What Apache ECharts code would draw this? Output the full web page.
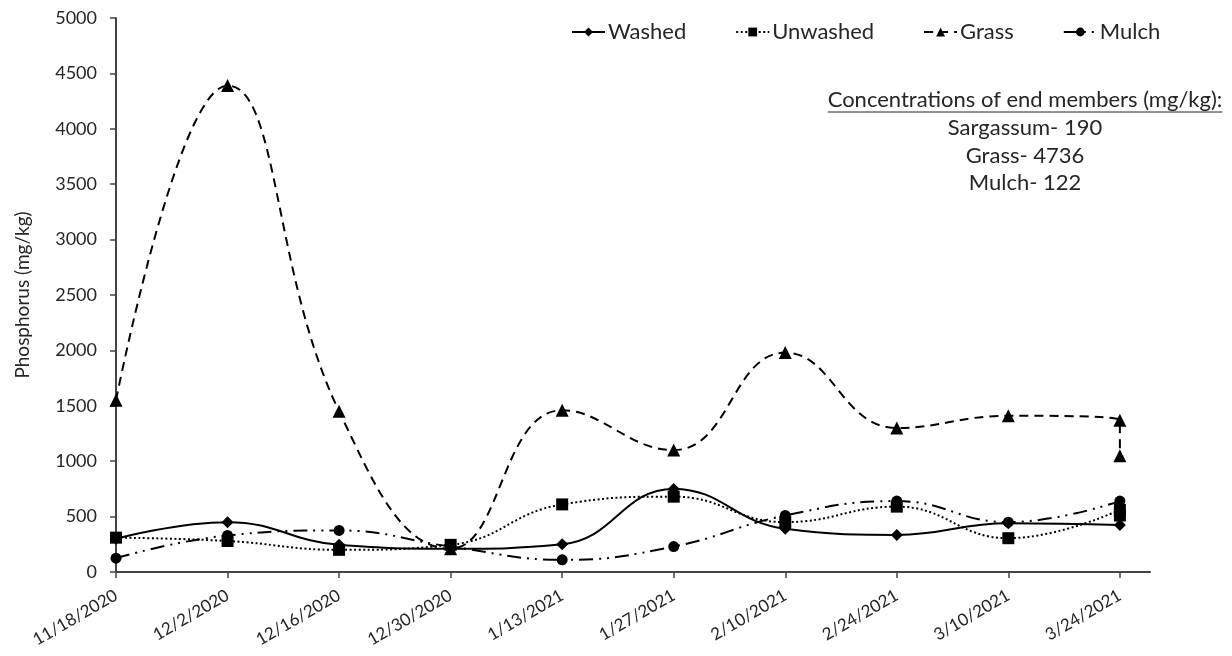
<!DOCTYPE html>
<html>
<head>
<meta charset="utf-8">
<script src="https://cdn.jsdelivr.net/npm/echarts@6/dist/echarts.min.js"></script>
<style>html,body{margin:0;padding:0;background:#fff}#c{width:1232px;height:656px}</style>
</head>
<body>
<div id="c"></div>
<script>
const dates = ['11/18/2020','12/2/2020','12/16/2020','12/30/2020','1/13/2021','1/27/2021','2/10/2021','2/24/2021','3/10/2021','3/24/2021'];
// sampling position (index into dates) of each measurement; last date sampled twice
const sampleIdx = [0,1,2,3,4,5,6,7,8,9,9];
const washed   = [300,450,245,210,250,750,390,335,440,425];
const unwashed = [310,280,200,245,610,680,450,590,305,560,510];
const grass    = [1550,4390,1450,210,1460,1100,1980,1300,1410,1370,1050];
const mulch    = [125,330,375,230,110,230,510,640,450,640];
const yTicks = [0,500,1000,1500,2000,2500,3000,3500,4000,4500,5000];
const noteTitle = 'Concentrations of end members (mg/kg):';
const noteLines = ['Sargassum- 190','Grass- 4736','Mulch- 122'];

const FONT = 'Lato';
const TXT = '#262626';
const NOTE_SIZE = 22, NOTE_X = 1025;
function pairs(vals){ return vals.map((v,i)=>[sampleIdx[i], v]); }

// measure title width for the underline
const mctx = document.createElement('canvas').getContext('2d');
mctx.font = NOTE_SIZE + 'px ' + FONT;
const titleW = mctx.measureText(noteTitle).width;

const chart = echarts.init(document.getElementById('c'));
function mk(name, vals, symbol, size, ltype, width){
  return {
    name, type:'line', data: pairs(vals), smooth:0.45,
    symbol, symbolSize:size, showSymbol:true,
    itemStyle:{color:'#000'},
    lineStyle:{color:'#000', width:width, type:ltype},
    z: 3
  };
}
function noteText(txt, y){
  return {type:'text', x:NOTE_X, y:y, style:{text:txt, align:'center', verticalAlign:'middle', fontSize:NOTE_SIZE, fontFamily:FONT, fill:TXT}};
}
chart.setOption({
  animation:false,
  textStyle:{fontFamily:FONT},
  grid:{left:116, right:82, top:18, bottom:84, containLabel:false},
  legend:{
    top:16, left:566, itemGap:49, itemWidth:33, itemHeight:11,
    textStyle:{fontFamily:FONT, fontSize:22, color:TXT, padding:[0,0,0,-2]},
    data:['Washed','Unwashed','Grass','Mulch']
  },
  xAxis:{
    type:'value', min:0, max:9.27, interval:1,
    axisLine:{show:true, lineStyle:{color:'#444', width:2}},
    axisTick:{show:true, length:6, lineStyle:{color:'#444', width:1.5}},
    splitLine:{show:false},
    axisLabel:{
      rotate:30, fontSize:17, color:TXT, fontFamily:FONT, margin:22,
      showMaxLabel:false,
      formatter:function(v){ return Number.isInteger(v) && dates[v] ? dates[v] : ''; }
    }
  },
  yAxis:{
    type:'value', min:yTicks[0], max:yTicks[yTicks.length-1], interval:500,
    name:'Phosphorus (mg/kg)', nameLocation:'middle', nameGap:84,
    nameTextStyle:{fontSize:19, color:TXT, fontFamily:FONT},
    axisLine:{show:true, lineStyle:{color:'#444', width:2}},
    axisTick:{show:true, length:6, lineStyle:{color:'#444', width:1.5}},
    splitLine:{show:false},
    axisLabel:{fontSize:18, color:TXT, fontFamily:FONT, margin:19, formatter:function(v){return String(v);}}
  },
  series:[
    mk('Washed', washed, 'diamond', 12, 'solid', 2),
    mk('Unwashed', unwashed, 'rect', 12, [2,2.5], 2),
    mk('Grass', grass, 'triangle', 13, [9,6], 2),
    mk('Mulch', mulch, 'circle', 11, [14,6,2,6,2,6], 2)
  ],
  graphic:[
    noteText(noteTitle, 100),
    {type:'line', shape:{x1:NOTE_X - titleW/2, y1:112, x2:NOTE_X + titleW/2, y2:112}, style:{stroke:TXT, lineWidth:1}},
    noteText(noteLines[0], 128),
    noteText(noteLines[1], 156),
    noteText(noteLines[2], 183)
  ]
});
</script>
</body>
</html>
